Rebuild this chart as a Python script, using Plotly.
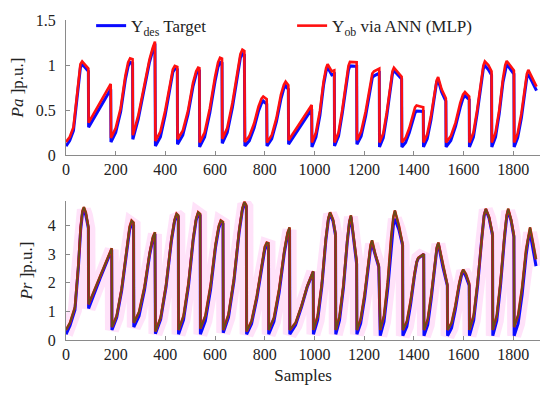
import plotly.graph_objects as go
from plotly.subplots import make_subplots

# ---------------- Data ----------------
pa_x = [0, 15, 30, 42, 52, 58, 65, 90,
        91, 180,
        181, 200, 220, 239, 250, 258, 268,
        269, 291, 313, 336, 349, 358,
        360, 380, 399, 419, 430, 438, 448,
        449, 470, 491, 511, 524, 532, 537,
        538, 558, 579, 600, 612, 620, 628,
        629, 649, 670, 690, 702, 710, 718,
        720, 738, 757, 775, 787, 794, 808,
        809, 828, 847, 865, 877, 884, 895,
        896, 920, 945, 970, 989,
        990, 1006, 1022, 1037, 1047, 1053, 1070, 1080,
        1081, 1097, 1112, 1128, 1137, 1143, 1170,
        1171, 1188, 1206, 1223, 1233, 1240, 1261,
        1262, 1277, 1291, 1306, 1314, 1320, 1335, 1351,
        1352, 1367, 1382, 1396, 1405, 1411, 1438,
        1439, 1454, 1469, 1483, 1492, 1498, 1512, 1529,
        1530, 1549, 1568, 1587, 1598, 1606, 1623,
        1624, 1640, 1655, 1671, 1680, 1686, 1700, 1713,
        1714, 1729, 1744, 1759, 1768, 1774, 1790, 1803,
        1804, 1818, 1833, 1847, 1855, 1861, 1878, 1894]

pa_des = [0.10, 0.16, 0.27, 0.55, 0.85, 0.97, 1.01, 0.93,
          0.31, 0.73,
          0.145, 0.25, 0.48, 0.84, 0.985, 1.03, 1.02,
          0.175, 0.40, 0.72, 1.03, 1.16, 1.24,
          0.10, 0.20, 0.44, 0.77, 0.92, 0.96, 0.95,
          0.12, 0.22, 0.45, 0.76, 0.90, 0.94, 0.935,
          0.09, 0.20, 0.47, 0.82, 0.98, 1.03, 1.02,
          0.13, 0.25, 0.53, 0.91, 1.08, 1.125, 1.11,
          0.10, 0.16, 0.30, 0.49, 0.575, 0.60, 0.565,
          0.10, 0.18, 0.37, 0.62, 0.74, 0.77, 0.73,
          0.12, 0.22, 0.33, 0.43, 0.51,
          0.09, 0.20, 0.44, 0.78, 0.93, 0.975, 0.89, 0.90,
          0.10, 0.21, 0.46, 0.79, 0.945, 0.99, 0.985,
          0.12, 0.21, 0.43, 0.73, 0.86, 0.88, 0.91,
          0.09, 0.19, 0.43, 0.75, 0.90, 0.94, 0.89, 0.845,
          0.09, 0.14, 0.25, 0.40, 0.47, 0.49, 0.485,
          0.09, 0.18, 0.39, 0.68, 0.81, 0.835, 0.70, 0.60,
          0.09, 0.16, 0.32, 0.53, 0.63, 0.66, 0.615,
          0.09, 0.20, 0.46, 0.81, 0.96, 0.995, 0.95, 0.89,
          0.09, 0.20, 0.46, 0.81, 0.96, 1.01, 0.95, 0.90,
          0.09, 0.19, 0.41, 0.72, 0.86, 0.90, 0.80, 0.715]

pa_ob = [0.145, 0.20, 0.31, 0.60, 0.89, 1.01, 1.04, 0.96,
         0.36, 0.79,
         0.19, 0.30, 0.52, 0.88, 1.03, 1.075, 1.065,
         0.22, 0.44, 0.76, 1.06, 1.19, 1.26,
         0.155, 0.26, 0.49, 0.81, 0.95, 0.99, 0.98,
         0.175, 0.27, 0.49, 0.80, 0.93, 0.97, 0.965,
         0.14, 0.25, 0.52, 0.87, 1.03, 1.08, 1.07,
         0.18, 0.30, 0.58, 0.95, 1.12, 1.17, 1.155,
         0.145, 0.21, 0.35, 0.54, 0.625, 0.65, 0.62,
         0.14, 0.22, 0.41, 0.67, 0.78, 0.815, 0.775,
         0.165, 0.26, 0.37, 0.475, 0.555,
         0.14, 0.25, 0.49, 0.82, 0.965, 1.01, 0.93, 0.94,
         0.14, 0.25, 0.50, 0.84, 0.99, 1.035, 1.03,
         0.165, 0.26, 0.48, 0.77, 0.905, 0.93, 0.96,
         0.14, 0.24, 0.47, 0.79, 0.93, 0.97, 0.92, 0.87,
         0.14, 0.19, 0.30, 0.46, 0.53, 0.55, 0.53,
         0.14, 0.23, 0.43, 0.71, 0.83, 0.865, 0.73, 0.63,
         0.14, 0.21, 0.36, 0.58, 0.67, 0.70, 0.65,
         0.14, 0.25, 0.50, 0.84, 0.995, 1.04, 1.00, 0.93,
         0.14, 0.25, 0.50, 0.85, 1.00, 1.045, 0.99, 0.94,
         0.14, 0.24, 0.46, 0.76, 0.90, 0.946, 0.85, 0.76]

pr_x = [0, 16, 36, 50, 59, 66, 72, 80, 90,
        91, 137, 184,
        185, 204, 224, 244, 256, 264, 272,
        273, 294, 316, 337, 350, 358,
        360, 381, 403, 424, 437, 445, 452,
        453, 473, 493, 512, 524, 532, 540,
        541, 561, 582, 602, 615, 623, 632,
        633, 654, 676, 697, 710, 718, 726,
        727, 747, 768, 788, 800, 808, 815,
        816, 837, 858, 879, 892, 900,
        901, 924, 948, 971, 995,
        996, 1013, 1030, 1046, 1056, 1063, 1075, 1085,
        1086, 1101, 1117, 1132, 1141, 1147, 1158, 1170,
        1171, 1186, 1202, 1217, 1226, 1232, 1245, 1259,
        1265, 1280, 1295, 1309, 1318, 1324, 1340, 1355,
        1356, 1372, 1387, 1403, 1412, 1418, 1440,
        1441, 1456, 1470, 1485, 1493, 1499, 1517, 1535,
        1536, 1552, 1567, 1583, 1593, 1599, 1610, 1623,
        1624, 1641, 1657, 1674, 1683, 1690, 1703, 1717,
        1718, 1734, 1749, 1765, 1774, 1780, 1792, 1803,
        1804, 1820, 1836, 1852, 1862, 1868, 1880, 1892]

pr_des = [0.20, 0.50, 1.05, 2.55, 3.85, 4.40, 4.55, 4.35, 3.90,
          1.10, 2.15, 3.15,
          0.35, 0.78, 1.72, 3.12, 3.85, 4.05, 4.00,
          0.45, 0.84, 1.75, 2.99, 3.54, 3.70,
          0.22, 0.72, 1.87, 3.44, 4.14, 4.35, 4.30,
          0.20, 0.70, 1.88, 3.48, 4.19, 4.40, 4.35,
          0.20, 0.67, 1.76, 3.24, 3.90, 4.10, 4.05,
          0.25, 0.79, 2.05, 3.76, 4.53, 4.75, 4.65,
          0.20, 0.57, 1.44, 2.62, 3.15, 3.30, 3.28,
          0.20, 0.64, 1.66, 3.05, 3.67, 3.85,
          0.20, 0.52, 1.15, 1.85, 2.38,
          0.20, 0.70, 1.88, 3.48, 4.19, 4.40, 4.15, 3.65,
          0.20, 0.69, 1.84, 3.40, 4.10, 4.30, 3.50, 2.65,
          0.20, 0.58, 1.46, 2.66, 3.20, 3.35, 2.95, 2.55,
          0.15, 0.64, 1.78, 3.33, 4.03, 4.23, 3.85, 3.30,
          0.15, 0.47, 1.23, 2.26, 2.72, 2.85, 3.00,
          0.15, 0.53, 1.43, 2.65, 3.19, 3.35, 2.55, 1.90,
          0.15, 0.42, 1.05, 1.90, 2.29, 2.40, 2.22, 1.90,
          0.15, 0.68, 1.91, 3.58, 4.33, 4.55, 4.25, 3.65,
          0.15, 0.67, 1.89, 3.54, 4.28, 4.50, 4.15, 3.60,
          0.15, 0.58, 1.59, 2.96, 3.57, 3.75, 3.20, 2.58]

pr_ob = [0.35, 0.60, 1.15, 2.65, 3.95, 4.50, 4.64, 4.45, 3.95,
         1.25, 2.22, 3.20,
         0.45, 0.85, 1.80, 3.20, 3.95, 4.17, 4.10,
         0.60, 0.98, 1.86, 3.06, 3.60, 3.76,
         0.30, 0.79, 1.94, 3.51, 4.20, 4.41, 4.35,
         0.35, 0.84, 1.99, 3.56, 4.25, 4.46, 4.40,
         0.40, 0.85, 1.91, 3.34, 3.98, 4.17, 4.12,
         0.35, 0.89, 2.14, 3.84, 4.60, 4.82, 4.70,
         0.30, 0.67, 1.54, 2.72, 3.25, 3.40, 3.38,
         0.35, 0.78, 1.78, 3.14, 3.75, 3.93,
         0.35, 0.60, 1.20, 1.88, 2.40,
         0.35, 0.84, 1.99, 3.56, 4.25, 4.46, 4.20, 3.70,
         0.35, 0.83, 1.95, 3.47, 4.15, 4.35, 3.60, 2.75,
         0.35, 0.73, 1.60, 2.79, 3.32, 3.48, 3.00, 2.60,
         0.35, 0.85, 2.02, 3.60, 4.31, 4.52, 4.00, 3.35,
         0.35, 0.65, 1.36, 2.32, 2.74, 2.87, 3.00,
         0.35, 0.72, 1.57, 2.73, 3.25, 3.40, 2.60, 1.93,
         0.35, 0.60, 1.19, 2.00, 2.35, 2.46, 2.30, 1.97,
         0.35, 0.86, 2.04, 3.65, 4.37, 4.58, 4.30, 3.70,
         0.35, 0.86, 2.04, 3.65, 4.37, 4.58, 4.20, 3.65,
         0.45, 0.87, 1.84, 3.16, 3.75, 3.93, 3.40, 2.82]

x_ticks = [0, 200, 400, 600, 800, 1000, 1200, 1400, 1600, 1800]
pa_ticks = [0, 0.5, 1, 1.5]
pa_tick_text = ["0", "0.5", "1", "1.5"]
pr_ticks = [0, 1, 2, 3, 4]

# ---------------- Figure ----------------
FONT = "Liberation Serif"
BLUE = "#0a0aff"
RED = "#ff1010"

fig = make_subplots(rows=2, cols=1, shared_xaxes=False, vertical_spacing=0.1)

# top panel
fig.add_trace(go.Scatter(x=pa_x, y=pa_des, mode="lines", name="Y<sub>des</sub> Target",
                         line=dict(color=BLUE, width=3), legend="legend"), row=1, col=1)
fig.add_trace(go.Scatter(x=pa_x, y=pa_ob, mode="lines", name="Y<sub>ob</sub> via ANN (MLP)",
                         line=dict(color=RED, width=2.6), legend="legend2"), row=1, col=1)

# bottom panel: pink halo, blue, red, brown core
fig.add_trace(go.Scatter(x=pr_x, y=pr_des, mode="lines", showlegend=False, hoverinfo="skip",
                         line=dict(color="rgba(255,110,225,0.2)", width=14)), row=2, col=1)
fig.add_trace(go.Scatter(x=pr_x, y=pr_des, mode="lines", showlegend=False,
                         line=dict(color=BLUE, width=3)), row=2, col=1)
fig.add_trace(go.Scatter(x=pr_x, y=pr_ob, mode="lines", showlegend=False,
                         line=dict(color=RED, width=2.6)), row=2, col=1)
fig.add_trace(go.Scatter(x=pr_x, y=pr_ob, mode="lines", showlegend=False, hoverinfo="skip",
                         line=dict(color="#6a4a1a", width=2.0)), row=2, col=1)

axis_common = dict(showline=True, linecolor="#8a8a8a", linewidth=1, ticks="inside",
                   ticklen=4, tickcolor="#8a8a8a", showgrid=False, zeroline=False,
                   automargin=False,
                   tickfont=dict(family=FONT, size=16, color="#222"))

fig.update_xaxes(range=[0, 1908], tickvals=x_ticks, **axis_common)
fig.update_xaxes(domain=[0, 1], row=1, col=1)
fig.update_xaxes(title=dict(text="Samples", font=dict(family=FONT, size=17, color="#222"), standoff=6),
                 row=2, col=1)
fig.update_yaxes(range=[0, 1.5], tickvals=pa_ticks, ticktext=pa_tick_text, domain=[0.578, 1],
                 ticklabelstandoff=6,
                 title=dict(text="<i>Pa</i> ]p.u.]", font=dict(family=FONT, size=17, color="#222"),
                            standoff=10),
                 row=1, col=1, **axis_common)
fig.update_yaxes(range=[0, 4.85], tickvals=pr_ticks, domain=[0, 0.434],
                 ticklabelstandoff=6,
                 title=dict(text="<i>Pr</i> ]p.u.]", font=dict(family=FONT, size=17, color="#222"),
                            standoff=10),
                 row=2, col=1, **axis_common)

legend_common = dict(orientation="h", yanchor="middle", xanchor="left", bgcolor="rgba(0,0,0,0)",
                     font=dict(family=FONT, size=17, color="#222"))
# the page body adds an 8 px offset, so the figure is 8 px smaller and margins shifted
fig.update_layout(
    width=542, height=386,
    margin=dict(l=58, r=10, t=12, b=54, autoexpand=False),
    paper_bgcolor="white", plot_bgcolor="white",
    legend=dict(x=0.053, y=0.981, **legend_common),
    legend2=dict(x=0.477, y=0.981, **legend_common),
    showlegend=True,
)

fig.write_html("out.html")
